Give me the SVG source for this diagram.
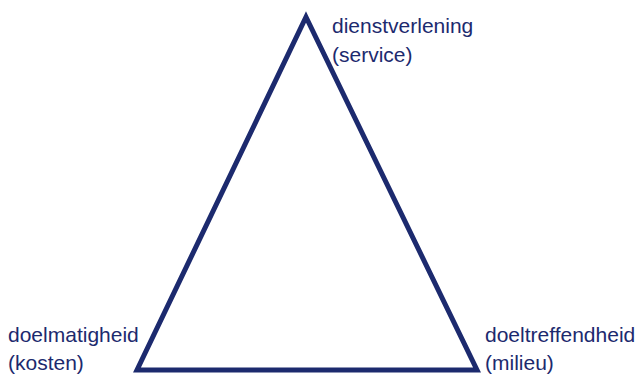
<svg xmlns="http://www.w3.org/2000/svg" width="639" height="374" viewBox="0 0 639 374">
<style>
.lbl{font-family:"Liberation Sans",Arial,sans-serif;font-size:21px;fill:#1c2a6e}
.tri{fill:#fff;stroke:#1c2a6e;stroke-width:5;stroke-linejoin:miter}
</style>
<rect width="639" height="374" fill="#fff"/>
<g id="connectors">
<polygon class="tri" points="306,17 477,370 137,370"/>
</g>
<g id="node-dienstverlening">
<text class="lbl" x="332" y="33">dienstverlening</text>
<text class="lbl" x="332" y="62">(service)</text>
</g>
<g id="node-doelmatigheid">
<text class="lbl" x="8" y="342">doelmatigheid</text>
<text class="lbl" x="8" y="370">(kosten)</text>
</g>
<g id="node-doeltreffendheid">
<text class="lbl" x="485" y="342">doeltreffendheid</text>
<text class="lbl" x="485" y="370">(milieu)</text>
</g>
</svg>
